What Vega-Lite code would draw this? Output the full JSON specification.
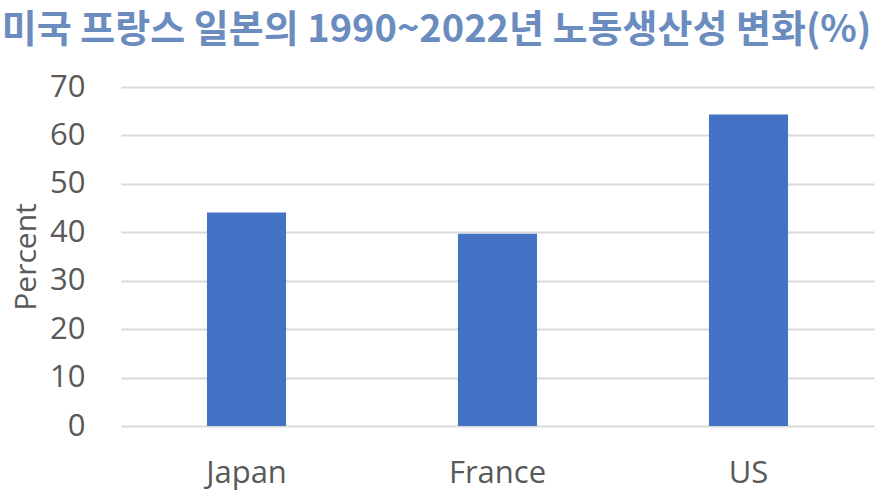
{
  "$schema": "https://vega.github.io/schema/vega-lite/v6.json",
  "width": 753,
  "height": 339,
  "autosize": "none",
  "padding": {"left": 121, "top": 87, "right": 10, "bottom": 73},
  "background": "white",
  "data": {
    "values": [
      {"country": "Japan", "value": 44.1},
      {"country": "France", "value": 39.7},
      {"country": "US", "value": 64.3}
    ]
  },
  "title": {
    "text": "미국 프랑스 일본의 1990~2022년 노동생산성 변화(%)",
    "font": "Noto Sans CJK KR",
    "fontSize": 38,
    "fontWeight": "bold",
    "color": "#6A8CBF",
    "anchor": "middle",
    "frame": "group",
    "dx": -61,
    "offset": 21
  },
  "mark": {"type": "bar", "color": "#4472C4"},
  "encoding": {
    "x": {
      "field": "country",
      "type": "nominal",
      "sort": ["Japan", "France", "US"],
      "scale": {"paddingInner": 0.685, "paddingOuter": 0.3425},
      "axis": {
        "title": null,
        "labelAngle": 0,
        "ticks": false,
        "domain": false,
        "labelFont": "Open Sans",
        "labelFontSize": 31,
        "labelColor": "#595959",
        "labelPadding": 32
      }
    },
    "y": {
      "field": "value",
      "type": "quantitative",
      "scale": {"domain": [0, 70], "nice": false},
      "axis": {
        "title": "Percent",
        "titleFont": "Open Sans",
        "titleFontSize": 30,
        "titleFontWeight": "normal",
        "titleColor": "#595959",
        "titlePadding": 8,
        "values": [0, 10, 20, 30, 40, 50, 60, 70],
        "ticks": false,
        "domain": false,
        "labelFont": "Open Sans",
        "labelFontSize": 31,
        "labelColor": "#595959",
        "labelPadding": 36,
        "gridColor": "#D9D9D9",
        "gridWidth": 2
      }
    }
  },
  "config": {"view": {"stroke": null}}
}
